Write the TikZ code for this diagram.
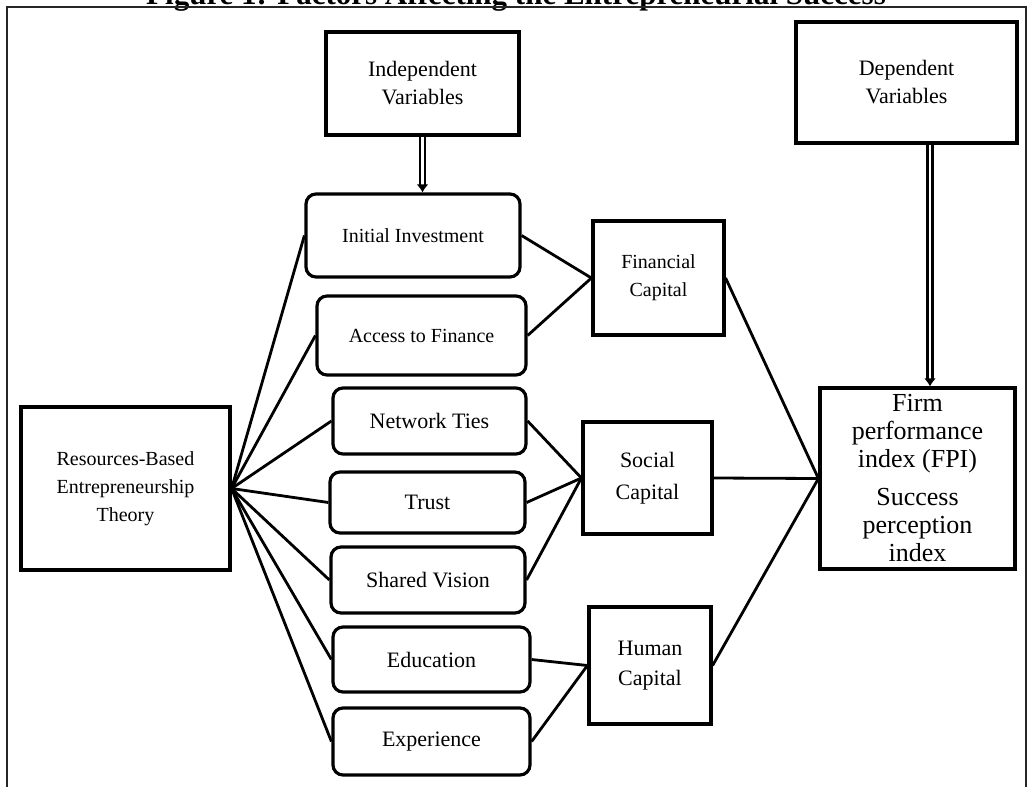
\documentclass[tikz,border=0pt]{standalone}
\usepackage{fontspec}
\setmainfont{Liberation Serif}
\usetikzlibrary{arrows.meta}

\begin{document}
\begin{tikzpicture}[x=0.5pt,y=-0.5pt]
            \tikzstyle{var box}=[draw,line width=1.6pt,align=center,inner sep=0pt]
            \tikzstyle{item box}=[var box,rounded corners=5pt]
            \tikzstyle{link}=[line width=1.4pt]
            \tikzstyle{double arrow}=[double,double distance=1.1pt,line width=1.4pt,-{Latex[length=4pt,width=6pt]}]
            \useasboundingbox (0,0) rectangle (1028,787);

            % frame and title
            \node[anchor=base,font=\fontsize{15.5}{18}\selectfont\bfseries] (title) at (516,4.5) {Figure 1: Factors Affecting the Entrepreneurial Success};
            \draw[line width=1pt,black!85] (7,787) -- (7,7) -- (1026,7) -- (1026,787);

            % variable boxes
            \node[var box,minimum width=96.5pt,minimum height=51.5pt,font=\fontsize{11}{14}\selectfont] (indep) at (422.5,83.5) {Independent\\Variables};
            \node[var box,minimum width=110.5pt,minimum height=60.5pt,font=\fontsize{11}{14}\selectfont] (dep) at (906.5,82.5) {Dependent\\Variables};
            \node[var box,minimum width=104.5pt,minimum height=81.5pt,font=\fontsize{10}{14}\selectfont] (rbet) at (125.5,488.5) {Resources-Based\\Entrepreneurship\\Theory};

            % items
            \node[item box,minimum width=107pt,minimum height=41.5pt,font=\fontsize{10}{14}\selectfont] (init) at (413,235.5) {Initial Investment};
            \node[item box,minimum width=104.5pt,minimum height=39.5pt,font=\fontsize{10}{14}\selectfont] (access) at (421.5,335.5) {Access to Finance};
            \node[item box,minimum width=96.5pt,minimum height=33pt,font=\fontsize{11}{14}\selectfont] (network) at (429.5,421) {Network Ties};
            \node[item box,minimum width=97.5pt,minimum height=30.5pt,font=\fontsize{11}{14}\selectfont] (trust) at (427.5,502.5) {Trust};
            \node[item box,minimum width=97pt,minimum height=33pt,font=\fontsize{11}{14}\selectfont] (shared) at (428,580) {Shared Vision};
            \node[item box,minimum width=98.5pt,minimum height=32.5pt,font=\fontsize{11}{14}\selectfont] (educ) at (431.5,659.5) {Education};
            \node[item box,minimum width=98.5pt,minimum height=33.5pt,font=\fontsize{11}{14}\selectfont] (exper) at (431.5,741.5) {Experience};

            % capitals
            \node[var box,minimum width=65.5pt,minimum height=57pt,font=\fontsize{10}{14}\selectfont] (fin) at (658.5,278) {Financial\\Capital};
            \node[var box,minimum width=64.5pt,minimum height=56pt,font=\fontsize{11}{16}\selectfont] (soc) at (647.5,478) {Social\\Capital};
            \node[var box,minimum width=61pt,minimum height=58.5pt,font=\fontsize{11}{15}\selectfont] (hum) at (650,665.5) {Human\\Capital};

            \node[var box,minimum width=97.5pt,minimum height=90.5pt,font=\fontsize{13}{14}\selectfont] (fpi) at (917.5,478.5) {Firm\\performance\\index (FPI)\\[5pt]Success\\perception\\index};

            \draw[double arrow] (indep.south) -- (indep.south |- init.north);
            \draw[double arrow] ([xshift=11.75pt]dep.south) -- ([xshift=11.75pt]dep.south |- fpi.north);

            \foreach \n in {init,access,network,trust,shared,educ,exper}
                \draw[link] (rbet.east) -- (\n.west);
            \foreach \n in {init,access}
                \draw[link] (\n.east) -- (fin.west);
            \foreach \n in {network,trust,shared}
                \draw[link] (\n.east) -- (soc.west);
            \foreach \n in {educ,exper}
                \draw[link] (\n.east) -- (hum.west);
            \foreach \n in {fin,soc,hum}
                \draw[link] (\n.east) -- (fpi.west);
        \end{tikzpicture}
\end{document}
